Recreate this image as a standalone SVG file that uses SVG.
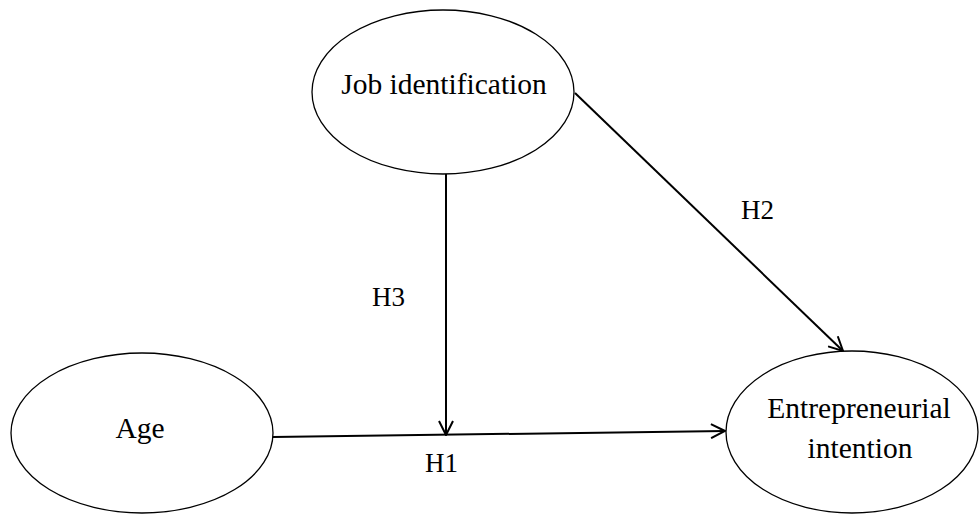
<svg xmlns="http://www.w3.org/2000/svg" width="979" height="514" viewBox="0 0 979 514">
<style>
.node{fill:#fff;stroke:#000;stroke-width:1.3}
.t{font-family:"Liberation Serif","Times New Roman",serif;font-size:29.5px;fill:#000;text-anchor:middle}
.h{font-family:"Liberation Serif","Times New Roman",serif;font-size:27px;fill:#000}
.edge{stroke:#000;stroke-width:2;fill:none;marker-end:url(#arr)}
</style>
<defs>
<marker id="arr" viewBox="0 0 16 16" refX="15" refY="8" markerWidth="16" markerHeight="16" markerUnits="userSpaceOnUse" orient="auto">
<path d="M1,1 L15,8 L1,15" fill="none" stroke="#000" stroke-width="2"/>
</marker>
</defs>
<rect width="979" height="514" fill="#fff"/>
<g id="connectors">
<line class="edge" x1="273" y1="437" x2="725" y2="431"/>
<line class="edge" x1="446" y1="174" x2="446" y2="435"/>
<line class="edge" x1="575" y1="93" x2="843" y2="351"/>
<text class="h" x="741" y="219">H2</text>
<text class="h" x="372" y="306">H3</text>
<text class="h" x="425" y="472">H1</text>
</g>
<g id="job">
<ellipse class="node" cx="443" cy="92" rx="131" ry="82"/>
<text class="t" x="444" y="94">Job identification</text>
</g>
<g id="age">
<ellipse class="node" cx="142" cy="433" rx="131" ry="80"/>
<text class="t" x="140" y="438">Age</text>
</g>
<g id="intention">
<ellipse class="node" cx="852" cy="432" rx="126" ry="81"/>
<text class="t" x="859" y="418">Entrepreneurial</text>
<text class="t" x="860" y="458">intention</text>
</g>
</svg>
